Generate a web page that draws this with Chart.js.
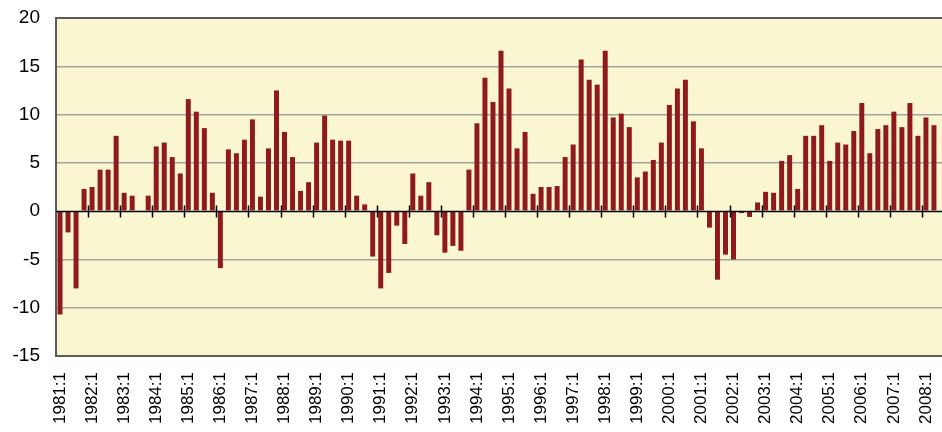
<!DOCTYPE html>
<html>
<head>
<meta charset="utf-8">
<script src="https://cdn.jsdelivr.net/npm/chart.js@4"></script>
<style>
	html, body { margin: 0; padding: 0; background: #ffffff; overflow: hidden; }
	#chart { display: block; }
</style>
</head>
<body>
<canvas id="chart" width="956" height="432"></canvas>
<script>
// quarterly values, 1981:1 .. 2008:4 (the last two quarters are cut off in the picture)
const years = [1981, 1982, 1983, 1984, 1985, 1986, 1987, 1988, 1989, 1990, 1991, 1992, 1993, 1994,
	1995, 1996, 1997, 1998, 1999, 2000, 2001, 2002, 2003, 2004, 2005, 2006, 2007, 2008];
const quarterNames = ["1", "2", "3", "4"];

const values = [
	-10.7, -2.2, -8.0, 2.3,
	2.5, 4.3, 4.3, 7.8,
	1.9, 1.6, 0, 1.6,
	6.7, 7.1, 5.6, 3.9,
	11.6, 10.3, 8.6, 1.9,
	-5.9, 6.4, 6.0, 7.4,
	9.5, 1.5, 6.5, 12.5,
	8.2, 5.6, 2.1, 3.0,
	7.1, 9.9, 7.4, 7.3,
	7.3, 1.6, 0.7, -4.7,
	-8.0, -6.4, -1.5, -3.4,
	3.9, 1.6, 3.0, -2.5,
	-4.3, -3.6, -4.1, 4.3,
	9.1, 13.8, 11.3, 16.6,
	12.7, 6.5, 8.2, 1.8,
	2.5, 2.5, 2.6, 5.6,
	6.9, 15.7, 13.6, 13.1,
	16.6, 9.7, 10.1, 8.7,
	3.5, 4.1, 5.3, 7.1,
	11.0, 12.7, 13.6, 9.3,
	6.5, -1.7, -7.1, -4.5,
	-5.0, -0.2, -0.6, 0.9,
	2.0, 1.9, 5.2, 5.8,
	2.3, 7.8, 7.8, 8.9,
	5.2, 7.1, 6.9, 8.3,
	11.2, 6.0, 8.5, 8.9,
	10.3, 8.7, 11.2, 7.8,
	9.7, 8.9, null, null,
];

const yTicks = [-15, -10, -5, 0, 5, 10, 15, 20];

const labels = [];
years.forEach((y) => {
	quarterNames.forEach((q) => labels.push(y + ":" + q));
});

const fontFamily = "'Liberation Sans', Arial, sans-serif";

// pale plot background
const plotBackground = {
	id: "plotBackground",
	beforeDraw(chart) {
		const { ctx, chartArea } = chart;
		ctx.save();
		ctx.fillStyle = "#faf6d0";
		ctx.fillRect(chartArea.left, chartArea.top, chartArea.right - chartArea.left, chartArea.bottom - chartArea.top);
		ctx.restore();
	},
};

// zero line and small year tick marks crossing it
const yearTicks = {
	id: "yearTicks",
	afterDatasetsDraw(chart) {
		const { ctx, scales } = chart;
		const x = scales.x;
		const y0 = Math.round(scales.y.getPixelForValue(0)) + 0.5;
		const half = (x.getPixelForValue(1) - x.getPixelForValue(0)) / 2;
		ctx.save();
		ctx.strokeStyle = "#000000";
		ctx.lineWidth = 1.5;
		ctx.beginPath();
		ctx.moveTo(x.left, y0);
		ctx.lineTo(x.right, y0);
		ctx.stroke();
		for (let i = 4; i < labels.length; i += 4) {
			const px = Math.round(x.getPixelForValue(i) - half) + 0.5;
			ctx.beginPath();
			ctx.moveTo(px, y0 - 6);
			ctx.lineTo(px, y0 + 6);
			ctx.stroke();
		}
		ctx.restore();
	},
};

new Chart(document.getElementById("chart"), {
	type: "bar",
	data: {
		labels: labels,
		datasets: [
			{
				data: values,
				backgroundColor: "#8e1a1e",
				borderWidth: 0,
				barPercentage: 0.62,
				categoryPercentage: 1.0,
			},
		],
	},
	options: {
		responsive: false,
		animation: false,
		devicePixelRatio: 1,
		layout: { padding: { top: 18, right: 2, left: 0, bottom: 0 } },
		plugins: {
			legend: { display: false },
			tooltip: { enabled: false },
		},
		scales: {
			x: {
				grid: { display: false, drawTicks: false },
				border: { display: true, color: "#5c5c5c", width: 2 },
				ticks: {
					autoSkip: false,
					minRotation: 90,
					maxRotation: 90,
					padding: 16,
					color: "#000000",
					font: { family: fontFamily, size: 17 },
					callback: (value, index) => (index % 4 === 0 ? labels[index] : ""),
				},
				afterFit: (scale) => {
					scale.height = 76;
					scale.paddingLeft = 0;
					scale.paddingRight = 0;
				},
			},
			y: {
				min: -15,
				max: 20,
				afterBuildTicks: (scale) => {
					scale.ticks = yTicks.map((v) => ({ value: v }));
				},
				grid: {
					drawTicks: false,
					color: (c) => {
						const v = c.tick.value;
						if (v === 20 || v === -15) return "#5c5c5c";
						if (v === 0) return "rgba(0,0,0,0)";
						return "#a3a3a3";
					},
					lineWidth: (c) => (c.tick.value === 20 || c.tick.value === -15 ? 2 : 1.5),
				},
				border: { display: true, color: "#5c5c5c", width: 2 },
				ticks: {
					padding: 16,
					color: "#000000",
					font: { family: fontFamily, size: 19 },
				},
				afterFit: (scale) => {
					scale.width = 56;
					scale.paddingTop = 0;
					scale.paddingBottom = 0;
				},
			},
		},
	},
	plugins: [plotBackground, yearTicks],
});
</script>
</body>
</html>
